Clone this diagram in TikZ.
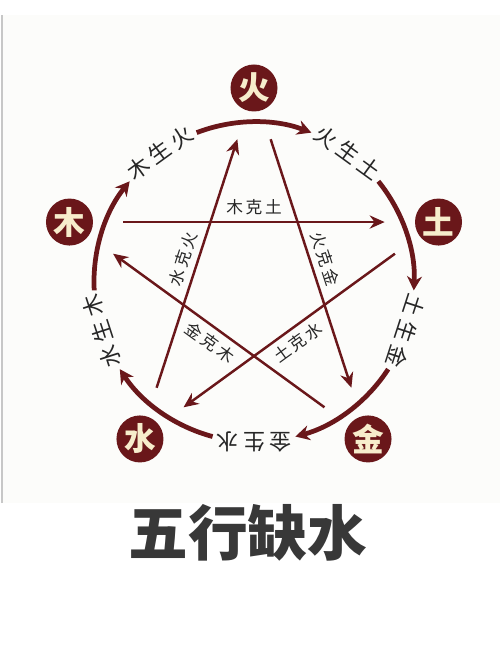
\documentclass[tikz,border=0pt]{standalone}
\usepackage{fontspec}
\newfontfamily\cjk{Noto Sans CJK SC}
\newfontfamily\cjkarc[LetterSpace=22]{Noto Sans CJK SC}
\newfontfamily\cjkstar[LetterSpace=16]{Noto Sans CJK SC}
\usepackage{tikz}
\usetikzlibrary{arrows.meta}
\definecolor{wuxing}{HTML}{6A171A}
\definecolor{cream}{HTML}{F7EDCC}
\definecolor{panel}{HTML}{FCFCFA}

\begin{document}
\begin{tikzpicture}[
    elemnode/.style={circle, fill=wuxing, minimum size=0.94cm, inner sep=0pt, text=cream, font=\cjk\bfseries\fontsize{18}{18}\selectfont},
    shengline/.style={draw=wuxing, line width=2.7pt, -{Stealth[length=8pt, width=8.5pt]}},
    keline/.style={draw=wuxing, line width=1.4pt, -{Stealth[length=8.5pt, width=7.5pt]}, shorten <=0.6cm, shorten >=0.6cm},
    shenglabel/.style={font=\cjkarc\fontsize{12.5}{12.5}\selectfont, text=black!85},
    kelabel/.style={font=\cjkstar\fontsize{9.5}{9.5}\selectfont, text=black!85}
    ]
        \useasboundingbox (-5.08,-7.58) rectangle (4.92,5.64);
        \fill[panel] (-5.02,-4.42) rectangle (4.92,5.34);
        \draw[black!22, line width=0.8pt] (-5.04,-4.42) -- (-5.04,5.34);

        %Nodes
        \node[elemnode]
            (huo)   at (90:3.88)    {火};
        \node[elemnode]
            (tu)    at (18:3.88)    {土};
        \node[elemnode]
            (jin)   at (-54:3.88)   {金};
        \node[elemnode]
            (shui)  at (-126:3.88)  {水};
        \node[elemnode]
            (mu)    at (162:3.88)   {木};

        %Sheng arcs
        \foreach \a/\n in {162/1, 90/2, 18/3, -54/4, -126/5} {
            \coordinate (s\n) at ({\a+21}:3.2);
            \draw[shengline] (s\n) arc[start angle=\a+21, end angle=\a-21, radius=3.2];
        }
        \node[shenglabel, rotate=36]
            (l1)    at (126:3.2)    {木生火};
        \node[shenglabel, rotate=-36]
            (l2)    at (54:3.2)     {火生土};
        \node[shenglabel, rotate=-108]
            (l3)    at (-18:3.2)    {土生金};
        \node[shenglabel, rotate=180]
            (l4)    at (-90:3.2)    {金生水};
        \node[shenglabel, rotate=108]
            (l5)    at (-162:3.2)   {水生木};

        %Lines
        \draw[keline]
            (mu) -- node[kelabel, above] (k1) {木克土} (tu);
        \draw[keline]
            (huo) -- node[kelabel, sloped, above] (k2) {火克金} (jin);
        \draw[keline]
            (tu) -- node[kelabel, sloped, below] (k3) {土克水} (shui);
        \draw[keline]
            (shui) -- node[kelabel, sloped, above] (k4) {水克火} (huo);
        \draw[keline]
            (jin) -- node[kelabel, sloped, below] (k5) {金克木} (mu);

        %Title
        \node[font=\cjk\bfseries\fontsize{34}{34}\selectfont, text=black!78]
            (title) at (-0.12,-5.02) {五行缺水};
    \end{tikzpicture}
\end{document}
